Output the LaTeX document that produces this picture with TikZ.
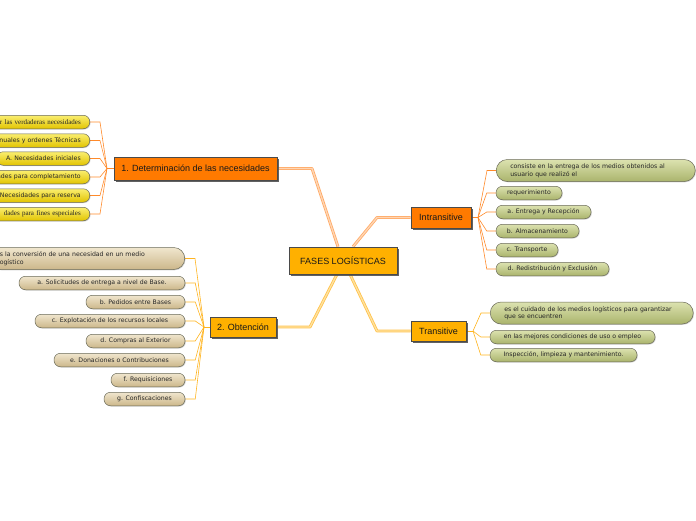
\documentclass[tikz,border=0pt]{standalone}
\usepackage{fontspec}
\setmainfont{Liberation Sans}
\newfontfamily\pillfont{DejaVu Sans}
\newfontfamily\serifpill{Liberation Serif}
\usetikzlibrary{shadows,calc,backgrounds}
\definecolor{orangeC}{HTML}{FF7A00}
\definecolor{amberC}{HTML}{FFB000}
\definecolor{boxborder}{HTML}{4A4A4A}
\definecolor{shadowC}{HTML}{505050}
\definecolor{pillborder}{HTML}{6A6A58}
\definecolor{yTop}{HTML}{FAEE70}
\definecolor{yBot}{HTML}{E2C400}
\definecolor{tTop}{HTML}{F0E6CE}
\definecolor{tBot}{HTML}{CCB78A}
\definecolor{gTop}{HTML}{DCE2B0}
\definecolor{gBot}{HTML}{AAB46C}
\definecolor{brOrange}{HTML}{FF8A2A}
\definecolor{brAmber}{HTML}{FFB420}
\definecolor{thOut}{HTML}{FFAA66}
\definecolor{thIn}{HTML}{FFD6B4}
\definecolor{thOutA}{HTML}{FFC24A}
\definecolor{thInA}{HTML}{FFE2A0}
\begin{document}
\begin{tikzpicture}[x=1pt,y=-1pt,
  mainbox/.style={draw=boxborder, line width=0.6pt, inner sep=0pt,
    font=\fontsize{9}{10}\selectfont, text=black!90,
    drop shadow={shadow xshift=2pt, shadow yshift=-2pt, fill=shadowC, opacity=0.9}},
  orangebox/.style={mainbox, fill=orangeC},
  amberbox/.style={mainbox, fill=amberC},
  pill/.style={draw=pillborder, line width=0.5pt, rounded corners=6.5pt,
    minimum height=13.5pt, inner sep=0pt, font=\pillfont\fontsize{6.2}{7.6}\selectfont,
    text=black!85,
    drop shadow={shadow xshift=0.8pt, shadow yshift=-0.8pt, opacity=0.35}},
  tallpill/.style={rounded corners=11pt, minimum height=22pt},
  ypill/.style={pill, top color=yTop, bottom color=yBot, anchor=east, align=right, inner xsep=9pt},
  tpill/.style={pill, top color=tTop, bottom color=tBot},
  gpill/.style={pill, top color=gTop, bottom color=gBot},
  thickA/.style={draw=thOut, double=thIn, line width=0.8pt, double distance=1.3pt, line join=round},
  thickB/.style={draw=thOutA, double=thInA, line width=0.8pt, double distance=1.3pt, line join=round},
  brO/.style={draw=brOrange, line width=0.6pt},
  brA/.style={draw=brAmber, line width=0.6pt}
]
\useasboundingbox (0,0) rectangle (696,520);
\clip (0,0) rectangle (696,520);

% main nodes
\node[amberbox, minimum width=108pt, minimum height=27pt] (c) at (343,260.5) {FASES LOGÍSTICAS};
\node[orangebox, minimum width=163pt, minimum height=23pt] (n1) at (195.5,168.5) {1. Determinación de las necesidades};
\node[amberbox, minimum width=66pt, minimum height=20pt] (n2) at (243,327) {2. Obtención};
\node[orangebox, minimum width=60pt, minimum height=21pt] (ni) at (441,217.5) {Intransitive};
\node[amberbox, minimum width=55pt, minimum height=20pt] (nt) at (438.5,331) {Transitive};

% yellow pills
\node[ypill, text width=95pt, font=\serifpill\fontsize{7}{8}\selectfont] (y1) at (90,122) {ir las verdaderas necesidades};
\node[ypill, text width=95pt] (y2) at (90,140.5) {anuales y ordenes Técnicas};
\node[ypill, text width=75pt] (y3) at (90,158.5) {A. Necesidades iniciales};
\node[ypill, text width=95pt] (y4) at (90,177) {ades para completamiento};
\node[ypill, text width=95pt] (y5) at (90,195.5) {Necesidades para reserva};
\node[ypill, text width=95pt, font=\serifpill\fontsize{7}{8}\selectfont] (y6) at (90,214) {dades para fines especiales};

% tan pills
\node[tpill, tallpill, anchor=east, text width=175pt, align=left, inner xsep=10pt] (t0) at (185,258.5) {s la conversión de una necesidad en un medio\\ogístico};
\node[tpill, minimum width=166pt] (t1) at (102,283) {a. Solicitudes de entrega a nivel de Base.};
\node[tpill, minimum width=99pt] (t2) at (135.5,302) {b. Pedidos entre Bases};
\node[tpill, minimum width=150pt] (t3) at (110,321) {c. Explotación de los recursos locales};
\node[tpill, minimum width=99pt] (t4) at (135.5,341) {d. Compras al Exterior};
\node[tpill, minimum width=131pt] (t5) at (119.5,360) {e. Donaciones o Contribuciones};
\node[tpill, minimum width=74pt] (t6) at (148,380) {f. Requisiciones};
\node[tpill, minimum width=81pt] (t7) at (144.5,399) {g. Confiscaciones};

% green pills (Intransitive)
\node[gpill, tallpill, anchor=west, text width=171pt, align=left, inner xsep=14pt] (g0) at (496,170.5) {consiste en la entrega de los medios obtenidos al\\usuario que realizó el};
\node[gpill, minimum width=66pt] (g1) at (529,193) {requerimiento};
\node[gpill, minimum width=95pt] (g2) at (543.5,212) {a. Entrega y Recepción};
\node[gpill, minimum width=83pt] (g3) at (537.5,231) {b. Almacenamiento};
\node[gpill, minimum width=62pt] (g4) at (527,250) {c. Transporte};
\node[gpill, minimum width=113pt] (g5) at (552.5,269) {d. Redistribución y Exclusión};

% green pills (Transitive)
\node[gpill, tallpill, anchor=west, text width=175pt, align=left, inner xsep=14pt] (h0) at (490,313) {es el cuidado de los medios logísticos para garantizar\\que se encuentren};
\node[gpill, minimum width=165pt] (h1) at (572.5,337) {en las mejores condiciones de uso o empleo};
\node[gpill, minimum width=147pt] (h2) at (563.5,355) {Inspección, limpieza y mantenimiento.};

% bends and junctions
\coordinate (b1) at (312,168.5);
\coordinate (b2) at (310,327);
\coordinate (b3) at (377,217.5);
\coordinate (b4) at (377,331);
\coordinate (j1) at (107,168.5);
\coordinate (j2) at (204,327);
\coordinate (j3) at (478,217.5);
\coordinate (j4) at (473,331);

\begin{scope}[on background layer]
% thick connectors
\draw[thickA] ([xshift=-5pt]c.north) -- (b1) -- (n1.east);
\draw[thickB] ([xshift=-6pt]c.south) -- (b2) -- (n2.east);
\draw[thickA] ([xshift=10pt]c.north) -- (b3) -- (ni.west);
\draw[thickB] ([xshift=7pt]c.south) -- (b4) -- (nt.west);

% branches of 1
\foreach \p in {y1,y2,y3,y4,y5,y6}
  \draw[brO] (\p.east) -- ++(10,0) -- (j1);
\draw[brO] (j1) -- (n1.west);
% branches of 2
\foreach \p in {t0,t1,t2,t3,t4,t5,t6,t7}
  \draw[brA] (\p.east) -- ++(10,0) -- (j2);
\draw[brA] (j2) -- (n2.west);
% branches of Intransitive
\draw[brO] (ni.east) -- (j3);
\foreach \p in {g0,g1,g2,g3,g4,g5}
  \draw[brO] (j3) -- ([xshift=-9pt]\p.west) -- (\p.west);
% branches of Transitive
\draw[brA] (nt.east) -- (j4);
\foreach \p in {h0,h1,h2}
  \draw[brA] (j4) -- ([xshift=-9pt]\p.west) -- (\p.west);
\end{scope}
\end{tikzpicture}
\end{document}
